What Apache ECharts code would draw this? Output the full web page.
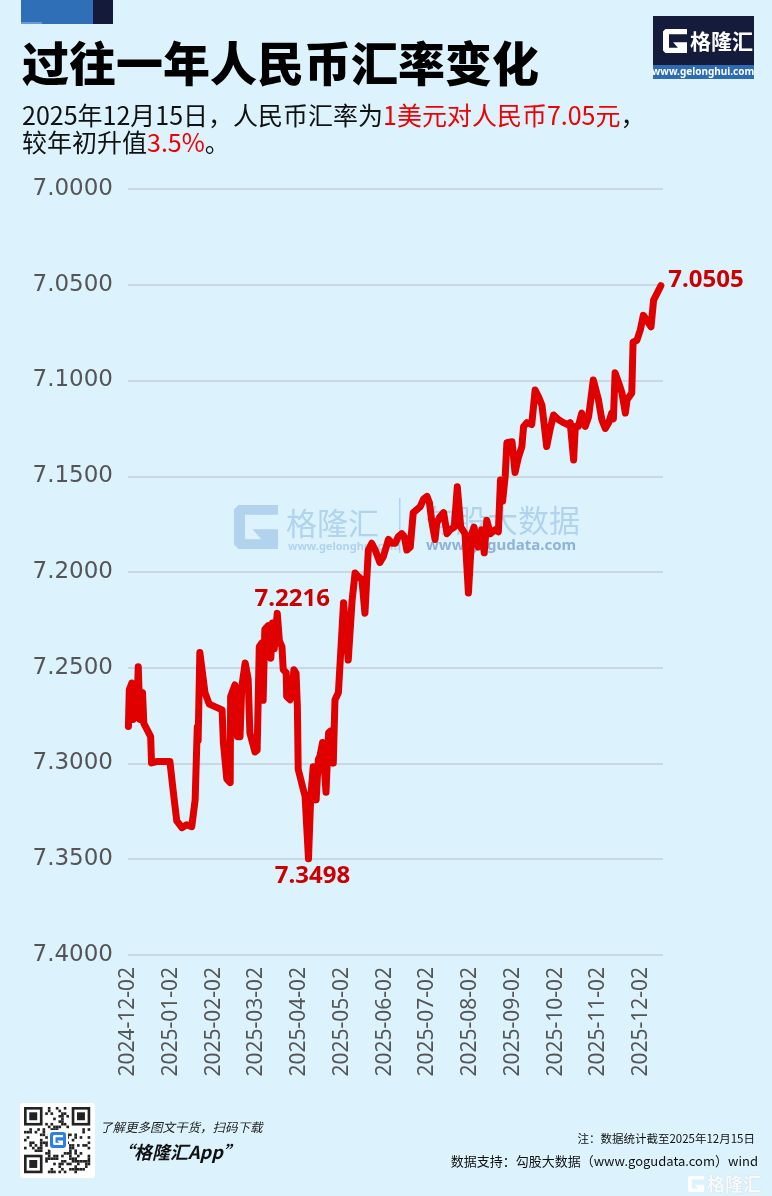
<!DOCTYPE html>
<html>
<head>
<meta charset="utf-8">
<script src="https://cdn.jsdelivr.net/npm/echarts@6/dist/echarts.min.js"></script>
<style>
html,body{margin:0;padding:0;background:#dcf3fd;}
#c{width:772px;height:1196px;}
</style>
</head>
<body>
<div id="c"></div>
<script>
// ---- data ----
const tickLabels = ['2024-12-02','2025-01-02','2025-02-02','2025-03-02','2025-04-02','2025-05-02','2025-06-02',
  '2025-07-02','2025-08-02','2025-09-02','2025-10-02','2025-11-02','2025-12-02'];
// position in months after 2024-12-02
const monthPos = [0.01,0.03,0.09,0.12,0.17,0.20,0.24,0.28,0.34,0.37,0.44,0.53,0.55,0.67,0.98,1.06,1.14,1.26,1.37,1.49,
  1.57,1.62,1.64,1.68,1.72,1.80,1.90,2.20,2.23,2.31,2.39,2.40,2.50,2.56,2.62,2.66,2.74,2.81,2.85,2.97,
  3.02,3.07,3.13,3.16,3.20,3.28,3.34,3.38,3.42,3.49,3.54,3.60,3.63,3.70,3.71,3.79,3.83,3.88,3.93,3.96,
  3.98,4.10,4.14,4.22,4.27,4.33,4.40,4.45,4.49,4.55,4.58,4.63,4.69,4.74,4.80,4.84,4.92,5.04,5.15,5.24,
  5.31,5.39,5.47,5.54,5.62,5.70,5.78,5.89,5.97,6.09,6.17,6.25,6.32,6.40,6.46,6.52,6.60,6.67,6.75,6.83,
  6.91,6.99,7.05,7.10,7.18,7.22,7.30,7.38,7.46,7.53,7.63,7.70,7.78,7.88,7.96,8.04,8.09,8.19,8.27,8.33,
  8.39,8.47,8.58,8.66,8.71,8.76,8.82,8.86,8.90,8.98,9.05,9.13,9.21,9.25,9.33,9.44,9.52,9.60,9.68,9.71,
  9.79,9.87,9.95,10.07,10.18,10.28,10.34,10.42,10.46,10.53,10.61,10.69,10.77,10.88,10.92,11.00,11.08,11.16,11.24,11.31,
  11.35,11.39,11.47,11.55,11.63,11.67,11.78,11.81,11.90,11.98,12.05,12.13,12.23,12.29,12.37,12.46];
// USD/CNY rate
const rates = [7.2807,7.2615,7.2580,7.2770,7.2620,7.2760,7.2495,7.2770,7.2630,7.2790,7.2820,7.2860,7.2997,7.2990,7.2990,7.3150,7.3300,7.3335,7.3320,7.3330,
  7.3190,7.2810,7.2880,7.2420,7.2410,7.2630,7.2690,7.2720,7.2890,7.3080,7.3100,7.2650,7.2590,7.2860,7.2860,7.2600,7.2475,7.2560,7.2840,7.2940,
  7.2930,7.2390,7.2370,7.2670,7.2300,7.2280,7.2450,7.2266,7.2400,7.2216,7.2360,7.2390,7.2510,7.2527,7.2650,7.2667,7.2630,7.2510,7.2530,7.2700,
  7.3030,7.3137,7.3170,7.3498,7.3190,7.3017,7.3190,7.2980,7.2960,7.2890,7.2880,7.3150,7.2840,7.2830,7.2998,7.2667,7.2630,7.2160,7.2460,7.2150,
  7.2005,7.2025,7.2040,7.2215,7.1885,7.1850,7.1885,7.1950,7.1920,7.1830,7.1850,7.1850,7.1815,7.1800,7.1815,7.1885,7.1870,7.1690,7.1675,7.1660,
  7.1620,7.1605,7.1640,7.1730,7.1830,7.1745,7.1710,7.1690,7.1800,7.1780,7.1765,7.1555,7.1765,7.1800,7.2110,7.1800,7.1765,7.1870,7.1780,7.1900,
  7.1730,7.1800,7.1780,7.1790,7.1520,7.1630,7.1500,7.1325,7.1320,7.1320,7.1480,7.1400,7.1345,7.1240,7.1220,7.1230,7.1050,7.1085,7.1130,7.1135,
  7.1345,7.1255,7.1180,7.1205,7.1220,7.1230,7.1220,7.1415,7.1240,7.1240,7.1170,7.1240,7.1190,7.0997,7.0987,7.1100,7.1205,7.1250,7.1220,7.1170,
  7.1200,7.0960,7.1010,7.1065,7.1170,7.1100,7.1065,7.0800,7.0790,7.0735,7.0660,7.0685,7.0720,7.0580,7.0545,7.0505];
const yTicks = { min: 7.0, max: 7.4, step: 0.05 };
const annotated = [7.2216, 7.3498, 7.0505];

// ---- helpers ----
const CJK = '"Noto Sans CJK SC","Noto Sans",sans-serif';
const NUM = '"Noto Sans","Noto Sans CJK SC",sans-serif';
function gShape(x, y, s, color, z) {
  const u = [[0.1,0],[1,0],[1,0.22],[0.25,0.22],[0.25,0.78],[0.62,0.78],[0.42,0.55],[1,0.55],[1,1],[0.1,1],[0,0.9],[0,0.1]];
  return { type: 'polygon', z: z || 0, shape: { points: u.map(p => [x + p[0]*s, y + p[1]*s]) }, style: { fill: color } };
}

const labelCfg = {
  7.2216: { position: 'top', offset: [15, 3] },
  7.3498: { position: 'bottom', offset: [4, 0] },
  7.0505: { position: 'right', offset: [2, -6] }
};
const markData = annotated.map(v => {
  const i = rates.indexOf(v);
  return {
    coord: [monthPos[i], rates[i]], value: v,
    label: Object.assign({ show: true, formatter: v.toFixed(4), color: '#cc0000', fontSize: 24,
      fontWeight: 'bold', fontFamily: NUM }, labelCfg[v])
  };
});

// QR-like decoration (fixed pattern)
const qr = [];
const qx = 24, qy = 1107, qm = 2.65, qn = 25;
for (let r = 0; r < qn; r++) for (let c = 0; c < qn; c++) {
  const inFinder = (r < 8 && c < 8) || (r < 8 && c >= qn - 8) || (r >= qn - 8 && c < 8);
  if (inFinder) continue;
  if (((r * 7 + c * 13) ^ (r * c)) % 3 === 0) {
    qr.push({ type: 'rect', shape: { x: qx + c*qm, y: qy + r*qm, width: qm, height: qm }, style: { fill: '#222' } });
  }
}
[[0,0],[0,qn-7],[qn-7,0]].forEach(([r,c]) => {
  qr.push({ type: 'rect', shape: { x: qx + c*qm, y: qy + r*qm, width: 7*qm, height: 7*qm }, style: { fill: '#222' } });
  qr.push({ type: 'rect', shape: { x: qx + (c+1)*qm, y: qy + (r+1)*qm, width: 5*qm, height: 5*qm }, style: { fill: '#fff' } });
  qr.push({ type: 'rect', shape: { x: qx + (c+2)*qm, y: qy + (r+2)*qm, width: 3*qm, height: 3*qm }, style: { fill: '#222' } });
});
qr.push({ type: 'rect', shape: { x: 48, y: 1130, width: 20, height: 20, r: 3 }, style: { fill: '#ffffff' } });
qr.push({ type: 'rect', shape: { x: 50, y: 1132, width: 16, height: 16, r: 3 }, style: { fill: '#2f7ee6' } });
qr.push(gShape(53, 1135, 10, '#ffffff', 2));

const wmColor = 'rgba(150,190,228,0.62)';

const graphics = [
  // top-left decorative blocks
  { type: 'rect', shape: { x: 21, y: 0, width: 72, height: 24 }, style: { fill: '#2f6fb8' } },
  { type: 'rect', shape: { x: 21, y: 22, width: 21, height: 2 }, style: { fill: '#6a9ad6' } },
  { type: 'rect', shape: { x: 93, y: 0, width: 20, height: 24 }, style: { fill: '#131a3a' } },
  // title
  { type: 'text', x: 22, y: 63, style: { text: '过往一年人民币汇率变化', font: '900 47px ' + CJK, fill: '#000', verticalAlign: 'middle' } },
  // subtitle
  { type: 'text', x: 22, y: 102, style: {
      text: '{k|2025年12月15日，人民币汇率为}{r|1美元对人民币7.05元}{k|，}\n{k|较年初升值}{r|3.5%}{k|。}',
      rich: {
        k: { fill: '#111', fontSize: 25, fontFamily: CJK, lineHeight: 27 },
        r: { fill: '#f00000', fontSize: 25, fontFamily: CJK, lineHeight: 27 }
      } } },
  // top-right logo
  { type: 'rect', shape: { x: 653, y: 16, width: 101, height: 49 }, style: { fill: '#151b3b' } },
  { type: 'rect', shape: { x: 653, y: 65, width: 101, height: 14 }, style: { fill: '#2d6cb5' } },
  gShape(663, 29, 24, '#ffffff'),
  { type: 'text', x: 690, y: 41, style: { text: '格隆汇', font: 'bold 21px ' + CJK, fill: '#fff', verticalAlign: 'middle' } },
  { type: 'text', x: 703, y: 72, style: { text: 'www.gelonghui.com', font: 'bold 10px ' + NUM, fill: '#fff', align: 'center', verticalAlign: 'middle' } },
  // central watermark
  gShape(234, 505, 44, wmColor),
  { type: 'text', x: 286, y: 523, style: { text: '格隆汇', font: '31px ' + CJK, fill: wmColor, verticalAlign: 'middle' } },
  { type: 'text', x: 288, y: 547, style: { text: 'www.gelonghui.com', font: 'bold 11px ' + NUM, fill: wmColor, verticalAlign: 'middle' } },
  { type: 'rect', shape: { x: 399, y: 498, width: 1.5, height: 55 }, style: { fill: wmColor } },
  { type: 'text', x: 425, y: 520, style: { text: '勾股大数据', font: '31px ' + CJK, fill: wmColor, verticalAlign: 'middle' } },
  { type: 'text', x: 426, y: 546, style: { text: 'www.gogudata.com', font: 'bold 15px ' + NUM, fill: 'rgba(110,150,200,0.7)', verticalAlign: 'middle' } },
  // footer
  { type: 'rect', shape: { x: 20, y: 1103, width: 75, height: 75, r: 3 }, style: { fill: '#ffffff' } }
].concat(qr).concat([
  { type: 'text', x: 100, y: 1127, style: { text: '了解更多图文干货，扫码下载', font: 'italic 12.5px ' + CJK, fill: '#222', verticalAlign: 'middle' } },
  { type: 'text', x: 116, y: 1152, style: { text: '“格隆汇App”', font: 'italic bold 18px ' + CJK, fill: '#111', verticalAlign: 'middle' } },
  { type: 'text', x: 755, y: 1139, style: { text: '注：数据统计截至2025年12月15日', font: '11.5px ' + CJK, fill: '#111', align: 'right', verticalAlign: 'middle' } },
  { type: 'text', x: 758, y: 1161, style: { text: '数据支持：勾股大数据（www.gogudata.com）wind', font: '13px ' + CJK, fill: '#111', align: 'right', verticalAlign: 'middle' } },
  gShape(688, 1176, 16, 'rgba(255,255,255,0.9)'),
  { type: 'text', x: 707, y: 1184, style: { text: '格隆汇', font: 'bold 18px ' + CJK, fill: 'rgba(255,255,255,0.9)', verticalAlign: 'middle', textShadowColor: 'rgba(120,140,160,0.5)', textShadowBlur: 1 } }
]);

const chart = echarts.init(document.getElementById('c'), null, { renderer: 'canvas' });
chart.setOption({
  animation: false,
  backgroundColor: '#dcf3fd',
  grid: { left: 128, right: 109, top: 189, bottom: 241 },
  xAxis: {
    type: 'value', min: 0, max: 12.51, interval: 1,
    axisLine: { show: false }, axisTick: { show: false }, splitLine: { show: false },
    axisLabel: {
      rotate: 90, margin: 12, color: '#555', fontSize: 21, fontFamily: NUM,
      showMaxLabel: false,
      formatter: v => (Math.abs(v - Math.round(v)) < 1e-6 && tickLabels[Math.round(v)]) ? tickLabels[Math.round(v)] : ''
    }
  },
  yAxis: {
    type: 'value', inverse: true, min: yTicks.min, max: yTicks.max, interval: yTicks.step,
    axisLine: { show: false }, axisTick: { show: false },
    splitLine: { lineStyle: { color: '#c3cfd8', width: 1.5 } },
    axisLabel: { color: '#555', fontSize: 23, fontFamily: '"DejaVu Sans",sans-serif', margin: 15, formatter: v => v.toFixed(4) }
  },
  graphic: graphics,
  series: [{
    type: 'line', z: 3,
    data: monthPos.map((m, i) => [m, rates[i]]),
    symbol: 'none', showSymbol: false,
    lineStyle: { color: '#e00000', width: 7, join: 'round', cap: 'round' },
    markPoint: { symbol: 'circle', symbolSize: 1, itemStyle: { color: 'rgba(0,0,0,0)' }, data: markData }
  }]
});
</script>
</body>
</html>
